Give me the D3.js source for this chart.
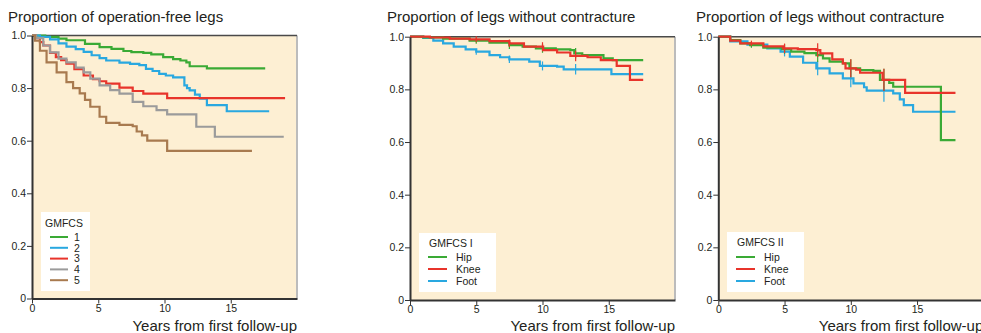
<!DOCTYPE html>
<html>
<head>
<meta charset="utf-8">
<script src="https://cdn.jsdelivr.net/npm/d3@7"></script>
<style>
  body { margin: 0; background: white; }
  text { font-family: "Liberation Sans", Arial, sans-serif; fill: #231f20; }
</style>
</head>
<body>
<div id="chart"></div>
<script>
// Kaplan-Meier step points: [years, proportion]
const gmfcs1 = [[0,1],[1,0.995],[2,0.988],[2.6,0.982],[4,0.968],[5.1,0.956],[6,0.949],[6.9,0.941],[7.5,0.937],[8.4,0.934],[9,0.928],[9.9,0.918],[10.65,0.91],[11.2,0.905],[11.65,0.898],[11.9,0.883],[13.2,0.875],[17.6,0.875]];
const gmfcs2 = [[0,1],[0.6,0.995],[1.36,0.985],[2,0.97],[2.6,0.958],[3.3,0.948],[3.9,0.938],[4.5,0.925],[5.1,0.914],[5.6,0.905],[6.6,0.897],[7.4,0.892],[8.1,0.887],[8.6,0.873],[9.1,0.865],[9.6,0.854],[10.1,0.848],[10.65,0.841],[11.5,0.81],[11.7,0.8],[11.9,0.791],[12.3,0.775],[12.66,0.76],[13.2,0.735],[14.7,0.712],[17.9,0.712]];
const gmfcs3 = [[0,1],[0.3,0.99],[0.6,0.975],[0.85,0.962],[1.36,0.934],[1.8,0.918],[2.2,0.906],[2.6,0.893],[3.2,0.872],[3.9,0.848],[4.6,0.834],[5.1,0.826],[5.6,0.817],[6.6,0.802],[7.6,0.789],[8.4,0.779],[10.2,0.762],[19.1,0.762]];
const gmfcs4 = [[0,1],[0.3,0.99],[0.85,0.962],[1.36,0.936],[2,0.912],[2.6,0.898],[3.3,0.878],[3.9,0.86],[4.4,0.836],[5.1,0.81],[5.9,0.792],[6.6,0.779],[7.6,0.748],[8.4,0.731],[9.4,0.716],[10.2,0.7],[12.4,0.653],[13.8,0.615],[19,0.615]];
const gmfcs5 = [[0,1],[0.23,0.98],[0.6,0.942],[1.1,0.898],[1.86,0.86],[2.6,0.823],[3.1,0.8],[3.6,0.78],[4,0.755],[4.4,0.729],[5.1,0.691],[5.6,0.668],[6.6,0.66],[7.6,0.655],[7.9,0.635],[8.3,0.62],[8.7,0.6],[10.2,0.561],[16.6,0.561]];

const hipI  = [[0,1],[1,0.997],[2.5,0.993],[4.5,0.985],[6,0.977],[7.5,0.968],[8.5,0.962],[9.5,0.956],[11,0.952],[12.1,0.949],[12.4,0.937],[13,0.93],[14.6,0.918],[15.3,0.911],[17.6,0.911]];
const kneeI = [[0,1],[1.5,0.997],[3,0.993],[4.5,0.99],[6,0.983],[7.5,0.975],[8.6,0.962],[10.05,0.949],[11.1,0.94],[12.1,0.927],[13.4,0.922],[14.4,0.911],[15.6,0.889],[16.6,0.836],[17.6,0.836]];
const footI = [[0,1],[1,0.995],[1.76,0.985],[2.5,0.975],[3.3,0.962],[4.2,0.952],[5,0.943],[6,0.93],[6.8,0.922],[7.5,0.914],[9,0.905],[9.8,0.889],[11.1,0.886],[11.6,0.876],[15.2,0.858],[17.6,0.858]];

const hipII  = [[0,1],[0.9,0.987],[1.66,0.975],[2.4,0.968],[3.4,0.958],[4.8,0.953],[5.5,0.943],[6.5,0.938],[7.4,0.93],[7.9,0.918],[8.4,0.905],[9.4,0.899],[9.9,0.88],[10.7,0.873],[11.7,0.87],[12.2,0.836],[12.9,0.825],[13.2,0.81],[16.8,0.607],[17.9,0.607]];
const kneeII = [[0,1],[0.9,0.985],[1.66,0.975],[3.4,0.963],[4.9,0.956],[6,0.953],[7.4,0.949],[7.7,0.937],[8.6,0.914],[9.4,0.899],[9.6,0.88],[10.4,0.875],[10.7,0.863],[12.4,0.836],[14.1,0.787],[17.9,0.787]];
const footII = [[0,1],[0.9,0.982],[2.2,0.97],[3.7,0.956],[4.7,0.943],[5.4,0.924],[6.4,0.901],[7.4,0.88],[8.4,0.861],[9.4,0.842],[10.2,0.823],[11,0.808],[11.2,0.795],[13.2,0.785],[13.7,0.762],[14,0.74],[14.7,0.715],[17.9,0.715]];

// censoring marks (years)
const censorI  = [5, 7.5, 10, 12.5];
const censorII = [2.5, 5, 7.5, 10, 12.5];

const yTicks = [0, 0.2, 0.4, 0.6, 0.8, 1.0];
const xTicks = [0, 5, 10, 15];

const colors = {
  green : "#3aaa35",
  blue  : "#29a8e0",
  red   : "#e8342b",
  gray  : "#9b9b9b",
  brown : "#a87a4f"
};

const panels = [
  {
    title: "Proportion of operation-free legs",
    x0: 32, top: 35.5, bottom: 298.5, titleX: 8,
    legendTitle: "GMFCS", legend: { x: 41, y: 212, w: 49, h: 79, titleX: 45, titleY: 227, first: 237, step: 10.8, lineX: 50, lineW: 18, textX: 74, size: 10.5 },
    series: [
      { name: "1", data: gmfcs1, color: colors.green },
      { name: "2", data: gmfcs2, color: colors.blue },
      { name: "3", data: gmfcs3, color: colors.red },
      { name: "4", data: gmfcs4, color: colors.gray },
      { name: "5", data: gmfcs5, color: colors.brown }
    ],
    censor: [], tickBase: 0, tickSlope: 0
  },
  {
    title: "Proportion of legs without contracture",
    x0: 410, top: 36.7, bottom: 300, titleX: 387,
    legendTitle: "GMFCS I", legend: { x: 419, y: 233, w: 77, h: 59, titleX: 429, titleY: 247, first: 257, step: 12, lineX: 428, lineW: 19, textX: 456, size: 10.5 },
    series: [
      { name: "Foot", data: footI, color: colors.blue },
      { name: "Hip", data: hipI, color: colors.green },
      { name: "Knee", data: kneeI, color: colors.red }
    ],
    legendOrder: ["Hip", "Knee", "Foot"],
    censor: censorI, tickBase: 1.5, tickSlope: 0.3
  },
  {
    title: "Proportion of legs without contracture",
    x0: 718.3, top: 36.7, bottom: 300, titleX: 696,
    legendTitle: "GMFCS II", legend: { x: 727, y: 232, w: 77, h: 60, titleX: 737, titleY: 246, first: 257, step: 12, lineX: 736, lineW: 19, textX: 764, size: 10.5 },
    series: [
      { name: "Foot", data: footII, color: colors.blue },
      { name: "Hip", data: hipII, color: colors.green },
      { name: "Knee", data: kneeII, color: colors.red }
    ],
    legendOrder: ["Hip", "Knee", "Foot"],
    censor: censorII, tickBase: 0.5, tickSlope: 0.85
  }
];

const svg = d3.select("#chart")
  .append("svg")
    .attr("width", 981)
    .attr("height", 333);

function valueAt(data, t) {
  let v = data[0][1];
  data.forEach(function(p) { if (p[0] <= t) v = p[1]; });
  return v;
}

panels.forEach(function(p) {
  const plotW = 265;
  const x = d3.scaleLinear().domain([0, 20]).range([p.x0, p.x0 + plotW]);
  const y = d3.scaleLinear().domain([0, 1]).range([p.bottom, p.top]);
  const g = svg.append("g");

  // background
  g.append("rect")
    .attr("x", x(0)).attr("y", y(1))
    .attr("width", plotW).attr("height", y(0) - y(1))
    .attr("fill", "#fdefd3");

  // right frame (grey) and top frame (dark)
  g.append("line")
    .attr("x1", x(20)).attr("x2", x(20))
    .attr("y1", y(1)).attr("y2", y(0))
    .attr("stroke", "#bcbcbc").attr("stroke-width", 2);
  g.append("line")
    .attr("x1", x(0)).attr("x2", x(20))
    .attr("y1", y(1)).attr("y2", y(1))
    .attr("stroke", "#4a4a4a").attr("stroke-width", 1.5);

  // title
  g.append("text")
    .attr("x", p.titleX).attr("y", 21.5)
    .style("font-size", "15px")
    .text(p.title);

  // curves
  const line = d3.line()
    .x(function(d) { return x(d[0]); })
    .y(function(d) { return y(d[1]); })
    .curve(d3.curveStepAfter);

  p.series.forEach(function(s) {
    g.append("path")
      .datum(s.data)
      .attr("fill", "none")
      .attr("stroke", s.color)
      .attr("stroke-width", 2.2)
      .attr("d", line);

    p.censor.forEach(function(t) {
      const half = p.tickBase + p.tickSlope * t;
      const cy = y(valueAt(s.data, t));
      g.append("line")
        .attr("x1", x(t)).attr("x2", x(t))
        .attr("y1", cy - half).attr("y2", cy + half)
        .attr("stroke", s.color).attr("stroke-width", 1.2);
    });
  });

  // axes
  const yAxis = g.append("g")
    .attr("transform", "translate(" + x(0) + ",0)")
    .call(d3.axisLeft(y).tickValues(yTicks).tickSize(5).tickSizeOuter(0)
      .tickFormat(function(d) { return d === 0 ? "0" : d3.format(".1f")(d); }));
  const xAxis = g.append("g")
    .attr("transform", "translate(0," + y(0) + ")")
    .call(d3.axisBottom(x).tickValues(xTicks).tickSize(5).tickSizeOuter(0));

  [yAxis, xAxis].forEach(function(a) {
    a.select(".domain").attr("stroke", "#333").attr("stroke-width", 2);
    a.selectAll(".tick line").attr("stroke", "#333").attr("stroke-width", 1);
    a.selectAll(".tick text").style("font-size", "10.5px").attr("fill", "#231f20")
      .style("font-family", "'Liberation Sans', Arial, sans-serif");
  });
  yAxis.selectAll(".tick text").attr("x", -6);
  xAxis.selectAll(".tick text").attr("y", 6);

  g.append("text")
    .attr("x", x(20)).attr("y", 331)
    .attr("text-anchor", "end")
    .style("font-size", "15px")
    .text("Years from first follow-up");

  // legend
  const L = p.legend;
  const lg = g.append("g");
  lg.append("rect")
    .attr("x", L.x).attr("y", L.y).attr("width", L.w).attr("height", L.h)
    .attr("fill", "white");
  lg.append("text")
    .attr("x", L.titleX).attr("y", L.titleY)
    .style("font-size", L.size + "px")
    .text(p.legendTitle);

  const order = p.legendOrder
    ? p.legendOrder.map(function(n) { return p.series.find(function(s) { return s.name === n; }); })
    : p.series;

  order.forEach(function(s, i) {
    const cy = L.first + i * L.step;
    lg.append("line")
      .attr("x1", L.lineX).attr("x2", L.lineX + L.lineW)
      .attr("y1", cy).attr("y2", cy)
      .attr("stroke", s.color).attr("stroke-width", 2);
    lg.append("text")
      .attr("x", L.textX).attr("y", cy + L.size * 0.36)
      .style("font-size", L.size + "px")
      .text(s.name);
  });
});
</script>
</body>
</html>
